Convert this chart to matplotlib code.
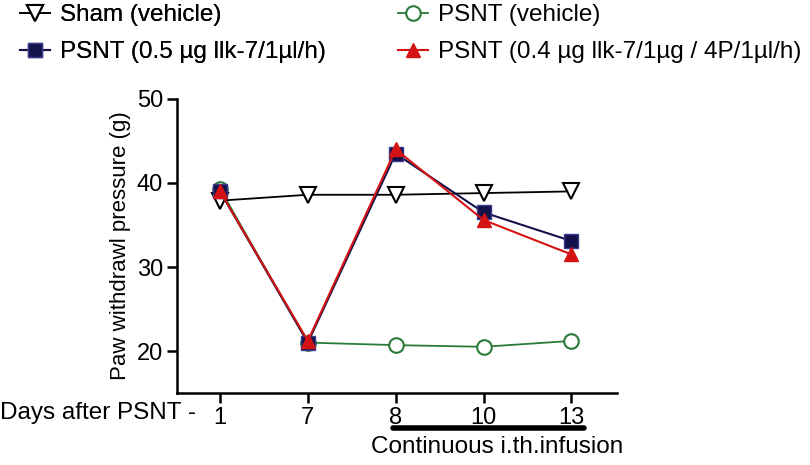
import matplotlib
matplotlib.use("Agg")
import matplotlib.pyplot as plt
import matplotlib.transforms as mtransforms
import numpy as np

plt.rcParams.update({
    "font.family": ["Liberation Sans", "DejaVu Sans"],
    "font.size": 17,
})

# ── Data ──────────────────────────────────────────────────────────────────────
DAYS = ["1", "7", "8", "10", "13"]
SHAM_VEH = [37.9, 38.6, 38.6, 38.8, 39.0]
PSNT_VEH = [39.3, 21.0, 20.7, 20.5, 21.2]
PSNT_05 = [39.0, 21.0, 43.5, 36.5, 33.1]
PSNT_04 = [39.0, 21.2, 44.0, 35.6, 31.5]

LEFT_LABELS = ["Sham (vehicle)", "PSNT (0.5 µg llk-7/1µl/h)"]
RIGHT_LABELS = ["PSNT (vehicle)", "PSNT (0.4 µg llk-7/1µg / 4P/1µl/h)"]

GREEN = "#2a7a3a"
NAVY = "#14124a"
RED = "#d41414"

W, H = 810, 465
fig = plt.figure(figsize=(W / 100, H / 100), dpi=100)
ax = fig.add_axes([177 / W, (H - 393) / H, (617 - 177) / W, (393 - 99) / H])

x = np.arange(len(DAYS))

h_circ, = ax.plot(x, PSNT_VEH, color=GREEN, lw=1.3, marker="o", ms=10.5,
                  mfc="white", mec=GREEN, mew=1.5, zorder=2)
h_sham, = ax.plot(x, SHAM_VEH, color="black", lw=1.3, marker="v", ms=11.5,
                  mfc="white", mec="black", mew=1.5, zorder=3)
h_sq, = ax.plot(x, PSNT_05, color=NAVY, lw=1.5, marker="s", ms=10,
                mfc=NAVY, mec="#3a3a8a", mew=1.0, zorder=4)
h_tri, = ax.plot(x, PSNT_04, color=RED, lw=1.5, marker="^", ms=10,
                 mfc=RED, mec=RED, zorder=5)

ax.set_xlim(-0.49, 4.52)
ax.set_ylim(15, 50)
ax.set_yticks([20, 30, 40, 50])
ax.set_xticks(x)
ax.set_xticklabels(DAYS)
ax.spines["top"].set_visible(False)
ax.spines["right"].set_visible(False)
ax.spines["left"].set_linewidth(1.8)
ax.spines["bottom"].set_linewidth(1.8)
ax.tick_params(axis="both", direction="out", length=7, width=1.8,
               labelsize=17, pad=3)
ax.set_ylabel("Paw withdrawl pressure (g)", fontsize=16, labelpad=4)

fig.text(0.0, (H - 413) / H, "Days after PSNT -", fontsize=17.5,
         ha="left", va="center")

trans = mtransforms.blended_transform_factory(ax.transData, ax.transAxes)
ax.plot([1.97, 4.14], [-0.118, -0.118], color="black", lw=4,
        solid_capstyle="round", transform=trans, clip_on=False)
ax.text(3.16, -0.185, "Continuous i.th.infusion", fontsize=17.5,
        ha="center", va="center", transform=trans)

leg_kw = dict(loc="upper left", frameon=False, fontsize=17.5,
              handlelength=1.25, handletextpad=0.4, labelspacing=0.62,
              borderpad=0, borderaxespad=0)
leg1 = fig.legend([h_sham, h_sq], LEFT_LABELS,
                  bbox_to_anchor=(20 / W, 1 - 4 / H), **leg_kw)
fig.add_artist(leg1)
fig.legend([h_circ, h_tri], RIGHT_LABELS,
           bbox_to_anchor=(398 / W, 1 - 4 / H), **leg_kw)

fig.savefig("out.png", dpi=100)
